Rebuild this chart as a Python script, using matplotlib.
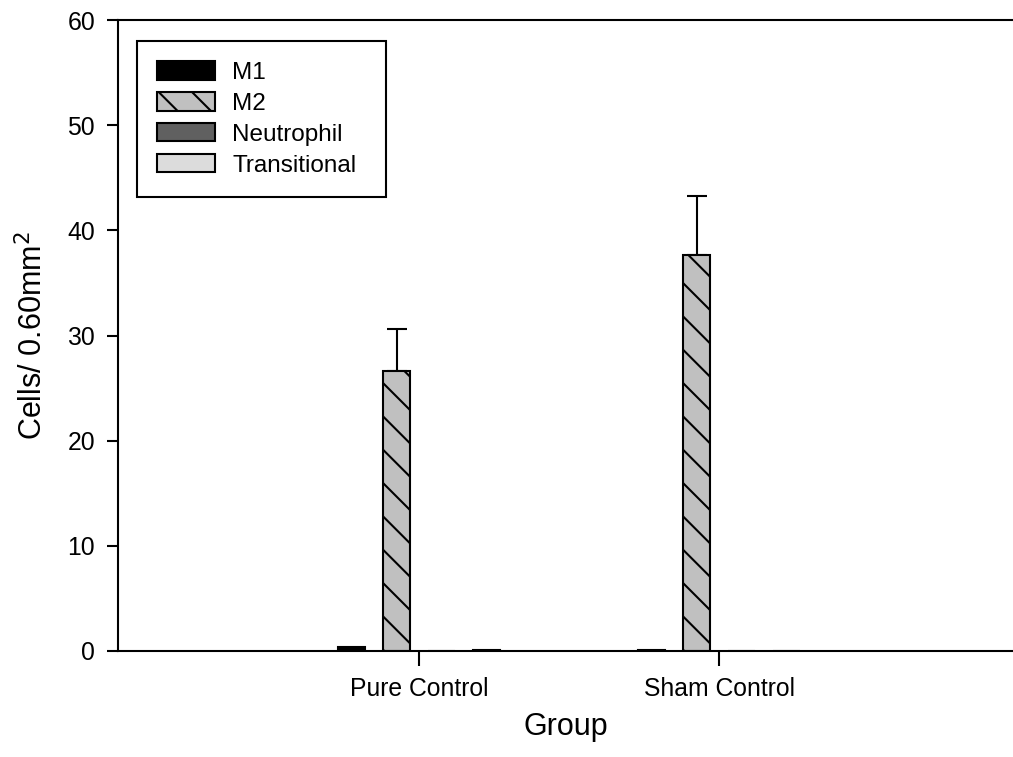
import numpy as np
from matplotlib import pyplot as plt

plt.rcParams['font.family'] = ['Liberation Sans', 'DejaVu Sans']
plt.rcParams['hatch.linewidth'] = 1.5

groups = ['Pure Control', 'Sham Control']
series = ['M1', 'M2', 'Neutrophil', 'Transitional']
values = {
    'M1': [0.4, 0.08],
    'M2': [26.6, 37.7],
    'Neutrophil': [0.0, 0.0],
    'Transitional': [0.08, 0.0],
}
errors = {
    'M1': [0.0, 0.0],
    'M2': [4.0, 5.6],
    'Neutrophil': [0.0, 0.0],
    'Transitional': [0.0, 0.0],
}
colors = {'M1': '#000000', 'M2': '#c0c0c0', 'Neutrophil': '#606060', 'Transitional': '#dcdcdc'}
hatches = {'M1': None, 'M2': '\\', 'Neutrophil': None, 'Transitional': None}

fig = plt.figure(figsize=(10.13, 7.57), dpi=100)
ax = fig.add_axes([118 / 1013, 106 / 757, 895 / 1013, 631 / 757])

x = np.arange(1, len(groups) + 1)
width = 0.093
offsets = [-0.225, -0.075, 0.075, 0.225]

for name, off in zip(series, offsets):
    ax.bar(x + off, values[name], width, color=colors[name], edgecolor='black',
           linewidth=1.5, hatch=hatches[name], label=name, zorder=2)
    for xi, v, e in zip(x + off, values[name], errors[name]):
        if e > 0:
            ax.errorbar([xi], [v], yerr=[[0], [e]], fmt='none', ecolor='black',
                        elinewidth=1.5, capsize=7.2, capthick=1.5, zorder=1)

ax.set_xlim(1 - 301 / 300, 2 + 294 / 300)
ax.set_ylim(0, 60)
ax.set_xticks(x)
ax.set_xticklabels(groups)
ax.set_yticks(range(0, 61, 10))
ax.tick_params(axis='both', direction='out', width=1.5, labelsize=17.8, colors='black')
ax.tick_params(axis='y', length=8, pad=8.5)
ax.tick_params(axis='x', length=11, pad=8)

ax.spines['right'].set_visible(False)
for s in ['left', 'top', 'bottom']:
    ax.spines[s].set_linewidth(1.5)

ax.set_xlabel('Group', fontsize=22, labelpad=8)
ax.set_ylabel('Cells/ 0.60mm$^2$', fontsize=22, labelpad=13)

leg = ax.legend(loc='upper left', bbox_to_anchor=(0.021, 0.5, 0.278, 0.467), mode='expand',
                borderaxespad=0, fontsize=17.5, fancybox=False, framealpha=1,
                edgecolor='black', handlelength=2.35, handleheight=0.78,
                handletextpad=0.72, labelspacing=0.34, borderpad=0.85)
leg.get_frame().set_linewidth(1.5)

plt.savefig('out.png', dpi=100)
